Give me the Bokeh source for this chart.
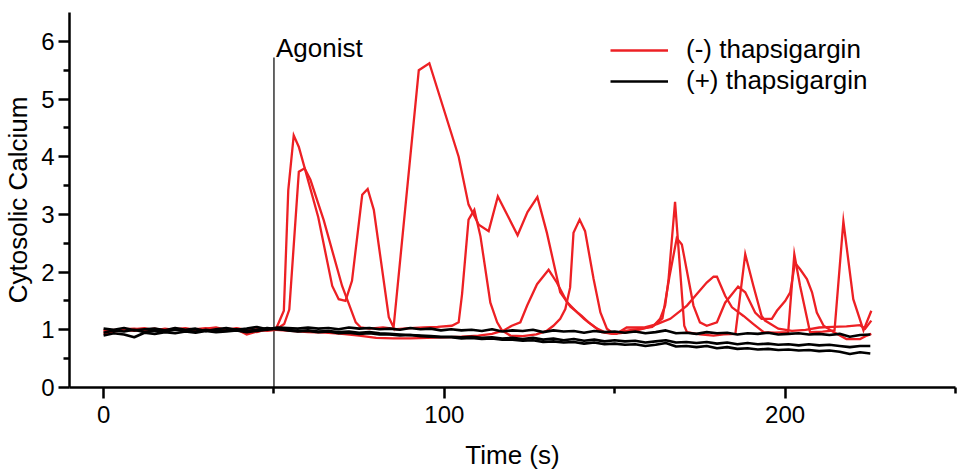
from bokeh.plotting import figure
from bokeh.models import Range1d, FixedTicker, Legend, LegendItem, Label
from bokeh.embed import file_html
from bokeh.resources import INLINE

# ---------------- data ----------------
PRE_T = [0, 3, 6, 9, 12, 15, 18, 21, 24, 27, 30, 33, 36, 39, 42, 45, 48]

# (-) thapsigargin traces (red)
R1_PRE = [1.00, 0.98, 1.01, 1.02, 0.99, 1.01, 1.00, 1.02, 0.99, 1.01, 1.03, 1.00, 1.02, 1.01, 0.92, 0.97, 1.00]
R1_POST_T = [50.5, 52.9, 54.2, 55.8, 57.3, 63.0, 67.1, 69.0, 71.0, 72.9, 75.9, 77.5, 79.3, 83.7, 85.1,
             92.5, 95.6, 104.2, 107.1, 110.1, 113.0, 115.7, 121.5, 124.4, 127.3, 130.1, 134.0, 137.0,
             140.3, 142.3, 146.2, 149.2, 152, 155, 158, 161, 164, 166, 168.2, 169.7, 173.1, 175.0,
             177.0, 180.0, 182.4, 186.2, 188.3, 191.2, 193.1, 196.1, 197.6, 200.0, 201.5, 202.9,
             204.4, 206.4, 207.9, 209.3, 211.3, 214.2, 218.0, 222.0, 224.0, 225.3]
R1_POST_V = [1.00, 1.33, 3.42, 4.37, 4.17, 2.95, 1.76, 1.53, 1.50, 1.85, 3.34, 3.44, 3.08, 1.22, 1.04,
             5.50, 5.62, 4.00, 3.17, 2.82, 2.71, 3.31, 2.64, 3.04, 3.30, 2.68, 1.65, 1.40,
             1.24, 1.13, 0.96, 0.93, 0.97, 1.00, 1.02, 1.05, 1.20, 1.90, 2.59, 2.48, 1.42, 1.13,
             1.07, 1.13, 1.47, 1.75, 1.65, 1.30, 1.19, 1.19, 1.33, 1.50, 1.65, 2.16,
             2.05, 1.88, 1.65, 1.30, 1.07, 0.96, 0.84, 0.84, 0.90, 0.93]

R2_PRE = [0.97, 1.00, 0.99, 1.01, 1.03, 0.99, 1.02, 1.00, 1.01, 0.98, 1.02, 1.04, 1.00, 1.02, 0.99, 1.01, 0.98]
R2_POST_T = [50.5, 53.0, 54.5, 57.3, 59.0, 60.7, 64.6, 70.0, 74.0, 75.5, 78, 82, 86, 90, 94,
             98, 102.2, 104.2, 105.2, 107.1, 108.8, 110.6, 113.5, 115.5, 116.9, 119.4, 123, 127, 130, 132,
             134, 135.5, 136.9, 137.9, 139.7, 141.3, 143.8, 145.8, 147.7, 149.7, 153, 157, 161.4, 163.3, 164.8,
             165.8, 167.7, 170.4, 171.2, 175, 179, 182, 185.4, 188.3, 190.7, 193.1, 194.1, 198, 202, 206,
             210, 214, 218, 222, 223.5, 225.3]
R2_POST_V = [1.00, 1.10, 1.35, 3.74, 3.80, 3.60, 2.90, 1.76, 1.13, 1.04, 1.02, 1.04, 1.01, 1.03, 1.04,
             1.05, 1.07, 1.13, 1.62, 2.91, 3.08, 2.62, 1.47, 1.13, 0.99, 0.90, 0.89, 0.92, 0.98, 1.07,
             1.19, 1.36, 1.73, 2.68, 2.91, 2.71, 1.88, 1.30, 1.02, 0.93, 0.95, 1.00, 1.07, 1.19, 1.42,
             1.88, 3.22, 1.07, 0.96, 0.92, 0.90, 0.92, 0.93, 2.31, 1.76, 1.24, 1.16, 1.02, 0.98, 1.00,
             1.04, 1.05, 1.06, 1.08, 1.02, 1.16]

R3_PRE = [0.93, 0.97, 1.00, 0.98, 1.00, 1.02, 0.99, 1.01, 1.03, 1.00, 0.98, 1.01, 0.99, 1.03, 1.00, 0.96, 1.02]
R3_POST_T = [50.5, 55, 60, 65, 70, 75, 80, 85, 90, 95, 100, 105, 110, 114, 117.4,
             119.8, 122.3, 124.3, 127.2, 130.6, 133.0, 136.0, 139.0, 141.0, 144.8,
             147.5, 150.5, 153.5, 158.5, 162.4, 166.3, 171.2, 174.1, 177.0, 179.0,
             180.0, 182.4, 184.4, 187.8, 190.7, 193.7, 197, 200.9, 202.7, 204.4,
             207.3, 211, 214.5, 217.1, 220, 223, 225.3]
R3_POST_V = [1.00, 0.98, 0.96, 0.95, 0.93, 0.90, 0.86, 0.85, 0.85, 0.86, 0.87, 0.88, 0.90, 0.93, 0.99,
             1.07, 1.13, 1.42, 1.79, 2.04, 1.82, 1.48, 1.30, 1.19, 1.02,
             0.95, 0.93, 1.04, 1.04, 1.10, 1.19, 1.42, 1.62, 1.82, 1.92,
             1.92, 1.59, 1.39, 1.24, 1.10, 0.96, 0.95, 0.96, 2.31, 1.76,
             0.96, 0.97, 0.99, 2.88, 1.53, 0.99, 1.33]

# (+) thapsigargin traces (black), sampled every 3 s
K_T = list(range(0, 226, 3))
K1_V = [1.02, 1.00, 1.03, 0.99, 1.01, 1.02, 0.99, 1.03, 1.00, 1.02, 0.98, 1.01, 1.03, 1.00, 1.02, 1.05, 1.01,
        1.04,
        1.03, 1.02, 1.04, 1.02, 1.03, 1.01, 1.04, 1.02, 1.03, 1.01, 1.02, 1.00, 1.03, 1.01, 1.02, 0.99,
        1.01, 0.99, 1.00, 0.98, 1.01, 0.97, 0.99, 0.98, 1.00, 0.96, 0.99, 0.97, 0.98, 0.95, 0.98, 0.96, 0.97,
        0.95, 0.97, 0.94, 0.96, 0.99, 0.94, 0.95, 0.93, 0.96, 0.94, 0.95, 0.92, 0.94, 0.93, 0.95, 0.92,
        0.93, 0.94, 0.92, 0.93, 0.91, 0.93, 0.88, 0.91, 0.92]
K2_V = [0.95, 0.99, 0.97, 1.00, 0.96, 0.99, 0.97, 1.00, 0.98, 0.97, 1.00, 0.98, 0.99, 1.01, 0.98, 1.00, 1.03,
        1.01,
        1.00, 0.98, 0.99, 0.97, 0.98, 0.96, 0.97, 0.95, 0.96, 0.94, 0.93, 0.92, 0.91, 0.90, 0.89, 0.88,
        0.88, 0.87, 0.88, 0.86, 0.87, 0.85, 0.86, 0.84, 0.86, 0.83, 0.85, 0.82, 0.84, 0.81, 0.83, 0.80, 0.82,
        0.80, 0.81, 0.78, 0.80, 0.82, 0.78, 0.79, 0.77, 0.79, 0.76, 0.78, 0.75, 0.77, 0.75, 0.76, 0.74,
        0.75, 0.73, 0.75, 0.73, 0.74, 0.72, 0.70, 0.72, 0.72]
K3_V = [0.90, 0.94, 0.92, 0.87, 0.95, 0.93, 0.96, 0.94, 0.97, 0.95, 0.98, 0.96, 0.97, 0.99, 0.96, 0.98, 1.00,
        1.02,
        0.99, 0.97, 0.98, 0.96, 0.97, 0.94, 0.95, 0.93, 0.94, 0.92, 0.92, 0.90, 0.91, 0.89, 0.88, 0.87,
        0.87, 0.85, 0.86, 0.84, 0.85, 0.83, 0.83, 0.81, 0.82, 0.79, 0.80, 0.78, 0.79, 0.76, 0.78, 0.75, 0.76,
        0.74, 0.75, 0.72, 0.74, 0.77, 0.71, 0.72, 0.70, 0.72, 0.68, 0.70, 0.67, 0.68, 0.66, 0.67, 0.65,
        0.66, 0.64, 0.65, 0.63, 0.64, 0.62, 0.58, 0.61, 0.59]

AGONIST_T = 50
AGONIST_TOP = 5.72

X_TICKS = [0, 100, 200]
X_MINOR = [50, 150, 250]
Y_TICKS = [0, 1, 2, 3, 4, 5, 6]
Y_MINOR = [0.5, 1.5, 2.5, 3.5, 4.5, 5.5]

RED = "#ED2024"
BLACK = "#000000"
FONT = "Liberation Sans"

# ---------------- figure ----------------
p = figure(width=957, height=472, output_backend="svg", toolbar_location=None,
           x_range=Range1d(-10, 250), y_range=Range1d(0, 6.5),
           min_border_left=69, min_border_right=2, min_border_top=12, min_border_bottom=83)
p.outline_line_color = None
p.xgrid.visible = False
p.ygrid.visible = False
p.background_fill_color = "white"

p.xaxis.ticker = FixedTicker(ticks=X_TICKS, minor_ticks=X_MINOR)
p.yaxis.ticker = FixedTicker(ticks=Y_TICKS, minor_ticks=Y_MINOR)
p.xaxis.axis_label = "Time (s)"
p.yaxis.axis_label = "Cytosolic Calcium"

for ax in (p.xaxis, p.yaxis):
    ax.axis_line_width = 2.5
    ax.axis_line_color = BLACK
    ax.major_tick_line_width = 2.5
    ax.minor_tick_line_width = 2.5
    ax.major_tick_line_color = BLACK
    ax.minor_tick_line_color = BLACK
    ax.major_tick_in = 0
    ax.minor_tick_in = 0
    ax.major_tick_out = 11
    ax.minor_tick_out = 6
    ax.major_label_text_font = FONT
    ax.major_label_text_font_size = "24px"
    ax.major_label_text_color = BLACK
    ax.axis_label_text_font = FONT
    ax.axis_label_text_font_size = "26px"
    ax.axis_label_text_font_style = "normal"
    ax.axis_label_text_color = BLACK

p.xaxis.major_label_standoff = 7
p.xaxis.axis_label_standoff = 14
p.yaxis.major_label_standoff = 4
p.yaxis.axis_label_standoff = 5

# agonist marker
p.segment(x0=[AGONIST_T], y0=[0], x1=[AGONIST_T], y1=[AGONIST_TOP], line_color=BLACK, line_width=1.2)
p.add_layout(Label(x=AGONIST_T, y=AGONIST_TOP, x_offset=2, y_offset=10, text="Agonist",
                   text_font=FONT, text_font_size="26px", text_color=BLACK,
                   text_baseline="alphabetic"))

red_renderers = []
for pre_v, post_t, post_v in ((R1_PRE, R1_POST_T, R1_POST_V),
                              (R2_PRE, R2_POST_T, R2_POST_V),
                              (R3_PRE, R3_POST_T, R3_POST_V)):
    r = p.line(PRE_T + post_t, pre_v + post_v, line_color=RED, line_width=2.3, line_join="miter")
    red_renderers.append(r)

black_renderers = []
for vals in (K1_V, K2_V, K3_V):
    r = p.line(K_T, vals, line_color=BLACK, line_width=2.6)
    black_renderers.append(r)

legend = Legend(items=[LegendItem(label="(-) thapsigargin", renderers=[red_renderers[0]]),
                       LegendItem(label="(+) thapsigargin", renderers=[black_renderers[0]])],
                location=(541, 291), glyph_width=58, glyph_height=26, label_height=26,
                spacing=0, padding=0, margin=0, label_standoff=18,
                border_line_alpha=0, background_fill_alpha=0,
                label_text_font=FONT, label_text_font_size="26px", label_text_color=BLACK)
p.add_layout(legend)

open("out.html", "w").write(file_html(p, INLINE))
